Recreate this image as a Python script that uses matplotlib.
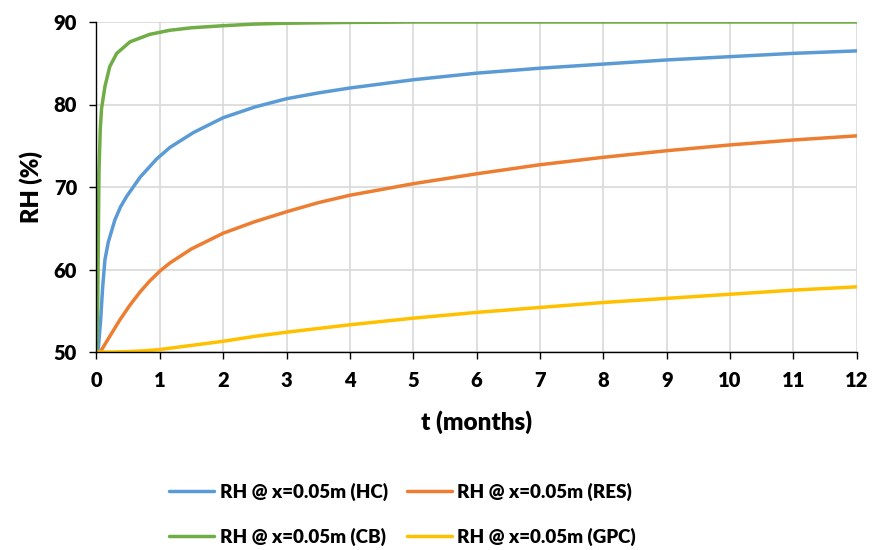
import matplotlib.pyplot as plt
from matplotlib.lines import Line2D

plt.rcParams['font.family'] = ['Lato', 'DejaVu Sans']
plt.rcParams['font.weight'] = 'bold'

# readings from the chart (t in months, RH in %)
t_hc = [0, 0.03, 0.066, 0.098, 0.134, 0.186, 0.29, 0.38, 0.48, 0.69, 0.95, 1.16, 1.53, 2, 2.5, 3, 3.5, 4, 5, 6, 7, 8, 9, 10, 11, 12]
rh_hc = [50, 50.5, 53.9, 57.9, 61.2, 63.3, 66.0, 67.6, 68.9, 71.2, 73.4, 74.8, 76.6, 78.4, 79.7, 80.7, 81.4, 82.0, 83.0, 83.8, 84.4, 84.9, 85.4, 85.8, 86.2, 86.5]

t_res = [0, 0.055, 0.1, 0.21, 0.37, 0.53, 0.69, 0.84, 1.0, 1.16, 1.5, 2, 2.5, 3, 3.5, 4, 5, 6, 7, 8, 9, 10, 11, 12]
rh_res = [50, 50.0, 50.5, 51.9, 53.9, 55.7, 57.3, 58.6, 59.8, 60.8, 62.5, 64.4, 65.8, 67.0, 68.1, 69.0, 70.4, 71.6, 72.7, 73.6, 74.4, 75.1, 75.7, 76.2]

t_cb = [0, 0.02, 0.03, 0.04, 0.06, 0.08, 0.134, 0.21, 0.32, 0.53, 0.84, 1.16, 1.5, 2, 2.5, 3, 4, 5, 6, 8, 10, 12]
rh_cb = [50, 56, 64, 72, 77, 79.5, 82.2, 84.6, 86.2, 87.6, 88.5, 89.0, 89.3, 89.55, 89.75, 89.85, 89.95, 90, 90, 90, 90, 90]

t_gpc = [0, 0.25, 0.5, 0.75, 1, 1.5, 2, 2.5, 3, 4, 5, 6, 7, 8, 9, 10, 11, 12]
rh_gpc = [50, 50.0, 50.05, 50.15, 50.3, 50.8, 51.3, 51.9, 52.4, 53.3, 54.1, 54.8, 55.4, 56.0, 56.5, 57.0, 57.5, 57.9]

labels = ["RH @ x=0.05m (HC)", "RH @ x=0.05m (RES)", "RH @ x=0.05m (CB)", "RH @ x=0.05m (GPC)"]
colors = ["#5B9BD5", "#ED7D31", "#70AD47", "#FFC000"]

fig = plt.figure(figsize=(8.73, 5.5), dpi=100)
ax = fig.add_axes([0.1105, 0.360, 0.871, 0.600])

lw = 2.5
ax.plot(t_hc, rh_hc, color=colors[0], lw=lw, solid_capstyle='round', solid_joinstyle='round')
ax.plot(t_res, rh_res, color=colors[1], lw=lw, solid_capstyle='round', solid_joinstyle='round')
ax.plot(t_cb, rh_cb, color=colors[2], lw=lw, solid_capstyle='round', solid_joinstyle='round')
ax.plot(t_gpc, rh_gpc, color=colors[3], lw=lw, solid_capstyle='round', solid_joinstyle='round')

ax.set_xlim(0, 12)
ax.set_ylim(50, 90)
ax.set_xticks(range(0, 13))
ax.set_yticks(range(50, 91, 10))
ax.grid(True, color='#D9D9D9', lw=1.2)
ax.set_axisbelow(True)
for s in ['top', 'right']:
    ax.spines[s].set_visible(False)
for s in ['left', 'bottom']:
    ax.spines[s].set_color('black')
    ax.spines[s].set_linewidth(1.0)
ax.tick_params(direction='out', length=5, width=1, labelsize=14.5, colors='black', pad=9)
for lab in ax.get_xticklabels() + ax.get_yticklabels():
    lab.set_fontweight(800)
ax.set_xlabel("t (months)", fontsize=17.5, fontweight=800, labelpad=14)
ax.set_ylabel("RH (%)", fontsize=17, fontweight=800, labelpad=8)

# legend in Excel order: row 1 HC, RES; row 2 CB, GPC
handles = [Line2D([], [], color=c, lw=lw, solid_capstyle='round') for c in colors]
order = [0, 2, 1, 3]
fig.legend([handles[i] for i in order], [labels[i] for i in order],
           ncol=2, loc='center', bbox_to_anchor=(0.461, 0.065), frameon=False,
           prop={'size': 13.5, 'weight': 800}, handlelength=2.4, handletextpad=0.3,
           columnspacing=1.0, labelspacing=1.45)

fig.savefig("out.png", dpi=100)
plt.close()
